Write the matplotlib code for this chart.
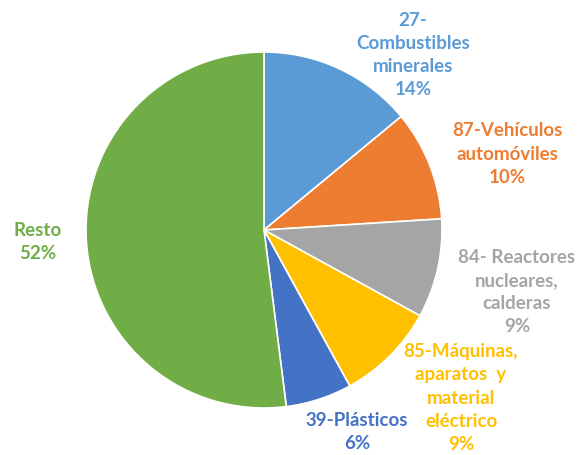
import matplotlib.pyplot as plt

categories = ['27-\nCombustibles\nminerales', '87-Vehículos\nautomóviles',
              '84- Reactores\nnucleares,\ncalderas', '85-Máquinas,\naparatos  y\nmaterial\neléctrico',
              '39-Plásticos', 'Resto']
shares = [14, 10, 9, 9, 6, 52]
colors = ['#5B9BD5', '#ED7D31', '#A5A5A5', '#FFC000', '#4472C4', '#70AD47']

# label anchor points in pixel space (x, y from top)
label_pos = [(413, 55), (507, 154), (517, 292), (461, 398), (357, 432), (38, 242)]

plt.rcParams['font.family'] = ['Lato', 'DejaVu Sans']

W, H = 584, 455
fig = plt.figure(figsize=(W / 100, H / 100), dpi=100)
ax = fig.add_axes([0, 0, 1, 1])

ax.pie(shares, colors=colors, center=(264, H - 230), radius=178,
       startangle=90, counterclock=False,
       wedgeprops=dict(edgecolor='white', linewidth=1.2), frame=True)
ax.set_xlim(0, W)
ax.set_ylim(0, H)
ax.axis('off')

for name, val, col, (x, y) in zip(categories, shares, colors, label_pos):
    ax.text(x, H - y, f'{name}\n{val}%', color=col, fontsize=13.5, fontweight='bold',
            ha='center', va='center', linespacing=1.45, multialignment='center')

fig.savefig('out.png', dpi=100)
